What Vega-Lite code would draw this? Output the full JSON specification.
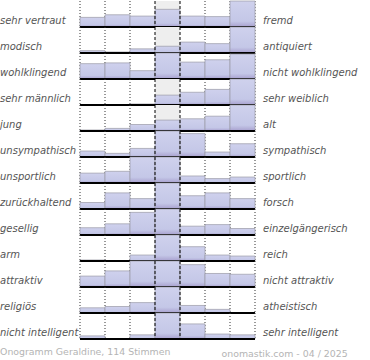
{
  "$schema": "https://vega.github.io/schema/vega-lite/v6.json",
  "padding": {"left": 0, "top": 0, "right": 0, "bottom": 0},
  "background": "white",
  "bounds": "flush",
  "title": {"text": "Onogramm Geraldine, 114 Stimmen", "orient": "bottom", "anchor": "start", "frame": "bounds", "font": "DejaVu Sans", "fontSize": 9.4, "fontWeight": "normal", "color": "#b4b4b4", "offset": -9},
  "data": {"values": [
    {"i":1,"l":"sehr vertraut","r":"fremd","c":1,"v":37},{"i":1,"l":"sehr vertraut","r":"fremd","c":2,"v":47},{"i":1,"l":"sehr vertraut","r":"fremd","c":3,"v":42},{"i":1,"l":"sehr vertraut","r":"fremd","c":4,"v":68},{"i":1,"l":"sehr vertraut","r":"fremd","c":5,"v":42},{"i":1,"l":"sehr vertraut","r":"fremd","c":6,"v":40},{"i":1,"l":"sehr vertraut","r":"fremd","c":7,"v":100},
    {"i":2,"l":"modisch","r":"antiquiert","c":1,"v":9},{"i":2,"l":"modisch","r":"antiquiert","c":2,"v":4},{"i":2,"l":"modisch","r":"antiquiert","c":3,"v":16},{"i":2,"l":"modisch","r":"antiquiert","c":4,"v":26},{"i":2,"l":"modisch","r":"antiquiert","c":5,"v":42},{"i":2,"l":"modisch","r":"antiquiert","c":6,"v":36},{"i":2,"l":"modisch","r":"antiquiert","c":7,"v":100},
    {"i":3,"l":"wohlklingend","r":"nicht wohlklingend","c":1,"v":59},{"i":3,"l":"wohlklingend","r":"nicht wohlklingend","c":2,"v":62},{"i":3,"l":"wohlklingend","r":"nicht wohlklingend","c":3,"v":32},{"i":3,"l":"wohlklingend","r":"nicht wohlklingend","c":4,"v":100},{"i":3,"l":"wohlklingend","r":"nicht wohlklingend","c":5,"v":65},{"i":3,"l":"wohlklingend","r":"nicht wohlklingend","c":6,"v":74},{"i":3,"l":"wohlklingend","r":"nicht wohlklingend","c":7,"v":96},
    {"i":4,"l":"sehr männlich","r":"sehr weiblich","c":1,"v":0},{"i":4,"l":"sehr männlich","r":"sehr weiblich","c":2,"v":0},{"i":4,"l":"sehr männlich","r":"sehr weiblich","c":3,"v":4},{"i":4,"l":"sehr männlich","r":"sehr weiblich","c":4,"v":38},{"i":4,"l":"sehr männlich","r":"sehr weiblich","c":5,"v":49},{"i":4,"l":"sehr männlich","r":"sehr weiblich","c":6,"v":60},{"i":4,"l":"sehr männlich","r":"sehr weiblich","c":7,"v":100},
    {"i":5,"l":"\u2002jung","r":"alt","c":1,"v":4},{"i":5,"l":"\u2002jung","r":"alt","c":2,"v":10},{"i":5,"l":"\u2002jung","r":"alt","c":3,"v":25},{"i":5,"l":"\u2002jung","r":"alt","c":4,"v":42},{"i":5,"l":"\u2002jung","r":"alt","c":5,"v":47},{"i":5,"l":"\u2002jung","r":"alt","c":6,"v":57},{"i":5,"l":"\u2002jung","r":"alt","c":7,"v":100},
    {"i":6,"l":"unsympathisch","r":"sympathisch","c":1,"v":23},{"i":6,"l":"unsympathisch","r":"sympathisch","c":2,"v":14},{"i":6,"l":"unsympathisch","r":"sympathisch","c":3,"v":33},{"i":6,"l":"unsympathisch","r":"sympathisch","c":4,"v":100},{"i":6,"l":"unsympathisch","r":"sympathisch","c":5,"v":90},{"i":6,"l":"unsympathisch","r":"sympathisch","c":6,"v":19},{"i":6,"l":"unsympathisch","r":"sympathisch","c":7,"v":51},
    {"i":7,"l":"unsportlich","r":"sportlich","c":1,"v":38},{"i":7,"l":"unsportlich","r":"sportlich","c":2,"v":45},{"i":7,"l":"unsportlich","r":"sportlich","c":3,"v":100},{"i":7,"l":"unsportlich","r":"sportlich","c":4,"v":100},{"i":7,"l":"unsportlich","r":"sportlich","c":5,"v":27},{"i":7,"l":"unsportlich","r":"sportlich","c":6,"v":17},{"i":7,"l":"unsportlich","r":"sportlich","c":7,"v":23},
    {"i":8,"l":"zurückhaltend","r":"forsch","c":1,"v":25},{"i":8,"l":"zurückhaltend","r":"forsch","c":2,"v":62},{"i":8,"l":"zurückhaltend","r":"forsch","c":3,"v":40},{"i":8,"l":"zurückhaltend","r":"forsch","c":4,"v":100},{"i":8,"l":"zurückhaltend","r":"forsch","c":5,"v":51},{"i":8,"l":"zurückhaltend","r":"forsch","c":6,"v":62},{"i":8,"l":"zurückhaltend","r":"forsch","c":7,"v":40},
    {"i":9,"l":"gesellig","r":"einzelgängerisch","c":1,"v":28},{"i":9,"l":"gesellig","r":"einzelgängerisch","c":2,"v":43},{"i":9,"l":"gesellig","r":"einzelgängerisch","c":3,"v":87},{"i":9,"l":"gesellig","r":"einzelgängerisch","c":4,"v":100},{"i":9,"l":"gesellig","r":"einzelgängerisch","c":5,"v":34},{"i":9,"l":"gesellig","r":"einzelgängerisch","c":6,"v":40},{"i":9,"l":"gesellig","r":"einzelgängerisch","c":7,"v":25},
    {"i":10,"l":"arm","r":"reich","c":1,"v":4},{"i":10,"l":"arm","r":"reich","c":2,"v":0},{"i":10,"l":"arm","r":"reich","c":3,"v":23},{"i":10,"l":"arm","r":"reich","c":4,"v":100},{"i":10,"l":"arm","r":"reich","c":5,"v":55},{"i":10,"l":"arm","r":"reich","c":6,"v":23},{"i":10,"l":"arm","r":"reich","c":7,"v":19},
    {"i":11,"l":"attraktiv","r":"nicht attraktiv","c":1,"v":42},{"i":11,"l":"attraktiv","r":"nicht attraktiv","c":2,"v":62},{"i":11,"l":"attraktiv","r":"nicht attraktiv","c":3,"v":100},{"i":11,"l":"attraktiv","r":"nicht attraktiv","c":4,"v":100},{"i":11,"l":"attraktiv","r":"nicht attraktiv","c":5,"v":86},{"i":11,"l":"attraktiv","r":"nicht attraktiv","c":6,"v":52},{"i":11,"l":"attraktiv","r":"nicht attraktiv","c":7,"v":49},
    {"i":12,"l":"religiös","r":"atheistisch","c":1,"v":20},{"i":12,"l":"religiös","r":"atheistisch","c":2,"v":25},{"i":12,"l":"religiös","r":"atheistisch","c":3,"v":40},{"i":12,"l":"religiös","r":"atheistisch","c":4,"v":100},{"i":12,"l":"religiös","r":"atheistisch","c":5,"v":29},{"i":12,"l":"religiös","r":"atheistisch","c":6,"v":14},{"i":12,"l":"religiös","r":"atheistisch","c":7,"v":0},
    {"i":13,"l":"nicht intelligent","r":"sehr intelligent","c":1,"v":12},{"i":13,"l":"nicht intelligent","r":"sehr intelligent","c":2,"v":0},{"i":13,"l":"nicht intelligent","r":"sehr intelligent","c":3,"v":16},{"i":13,"l":"nicht intelligent","r":"sehr intelligent","c":4,"v":100},{"i":13,"l":"nicht intelligent","r":"sehr intelligent","c":5,"v":58},{"i":13,"l":"nicht intelligent","r":"sehr intelligent","c":6,"v":19},{"i":13,"l":"nicht intelligent","r":"sehr intelligent","c":7,"v":16}
  ]},
  "facet": {"row": {"field": "i", "type": "ordinal", "title": null, "header": {"labels": false}}},
  "spacing": 0,
  "spec": {
    "width": 175,
    "height": 26,
    "layer": [
      {"transform": [{"filter": "datum.c == 4"}], "mark": {"type": "bar", "color": "#eeeeee"},
       "encoding": {"x": {"field": "c", "type": "ordinal", "scale": {"paddingInner": 0, "paddingOuter": 0}, "title": "onomastik.com - 04 / 2025"},
         "y": {"datum": 100, "type": "quantitative", "scale": {"domain": [0, 100], "nice": false}, "axis": null}}},
      {"transform": [{"filter": "datum.c != 4 && datum.c != 5"}], "mark": {"type": "rule", "color": "#333333", "strokeDash": [1, 2], "strokeWidth": 1},
       "encoding": {"x": {"field": "c", "type": "ordinal", "bandPosition": 0, "title": "onomastik.com - 04 / 2025"}}},
      {"transform": [{"filter": "datum.c == 7"}], "mark": {"type": "rule", "color": "#333333", "strokeDash": [1, 2], "strokeWidth": 1},
       "encoding": {"x": {"field": "c", "type": "ordinal", "bandPosition": 1, "title": "onomastik.com - 04 / 2025"}}},
      {"mark": {"type": "bar", "stroke": "#9a9aa6", "strokeWidth": 1, "strokeOpacity": 0.7,
         "color": {"gradient": "linear", "x1": 0, "y1": 0, "x2": 0, "y2": 1, "stops": [{"offset": 0, "color": "#cfd1ed"}, {"offset": 0.78, "color": "#c4c7e7"}, {"offset": 1, "color": "#a79fce"}]}},
       "encoding": {"x": {"field": "c", "type": "ordinal", "title": "onomastik.com - 04 / 2025"}, "y": {"field": "v", "type": "quantitative"}}},
      {"transform": [{"filter": "datum.c == 4 || datum.c == 5"}], "mark": {"type": "rule", "color": "#000000", "strokeDash": [3, 2], "strokeWidth": 1},
       "encoding": {"x": {"field": "c", "type": "ordinal", "bandPosition": 0, "title": "onomastik.com - 04 / 2025"}}},
      {"transform": [{"filter": "datum.c == 1"}], "mark": {"type": "rule", "color": "#000000", "strokeWidth": 2},
       "encoding": {"y": {"datum": 0, "type": "quantitative"}}},
      {"transform": [{"filter": "datum.c == 1"}], "mark": {"type": "text", "align": "left", "baseline": "alphabetic", "dx": -80, "dy": -3, "font": "DejaVu Sans", "fontStyle": "italic", "fontSize": 10, "color": "#555555"},
       "encoding": {"x": {"field": "c", "type": "ordinal", "bandPosition": 0, "title": "onomastik.com - 04 / 2025"}, "y": {"datum": 0, "type": "quantitative"}, "text": {"field": "l"}}},
      {"transform": [{"filter": "datum.c == 7"}], "mark": {"type": "text", "align": "left", "baseline": "alphabetic", "dx": 8, "dy": -3, "font": "DejaVu Sans", "fontStyle": "italic", "fontSize": 10, "color": "#555555"},
       "encoding": {"x": {"field": "c", "type": "ordinal", "bandPosition": 1, "title": "onomastik.com - 04 / 2025"}, "y": {"datum": 0, "type": "quantitative"}, "text": {"field": "r"}}}
    ]
  },
  "config": {
    "view": {"stroke": null},
    "font": "DejaVu Sans",
    "axisX": {"labels": false, "ticks": false, "domain": false, "grid": false, "titleFont": "DejaVu Sans", "titleFontSize": 9.4, "titleFontWeight": "normal", "titleColor": "#b4b4b4", "titleAnchor": "start", "titleAlign": "left", "titleX": 141, "titleBaseline": "top", "titlePadding": 10, "titleLimit": 300}
  }
}
